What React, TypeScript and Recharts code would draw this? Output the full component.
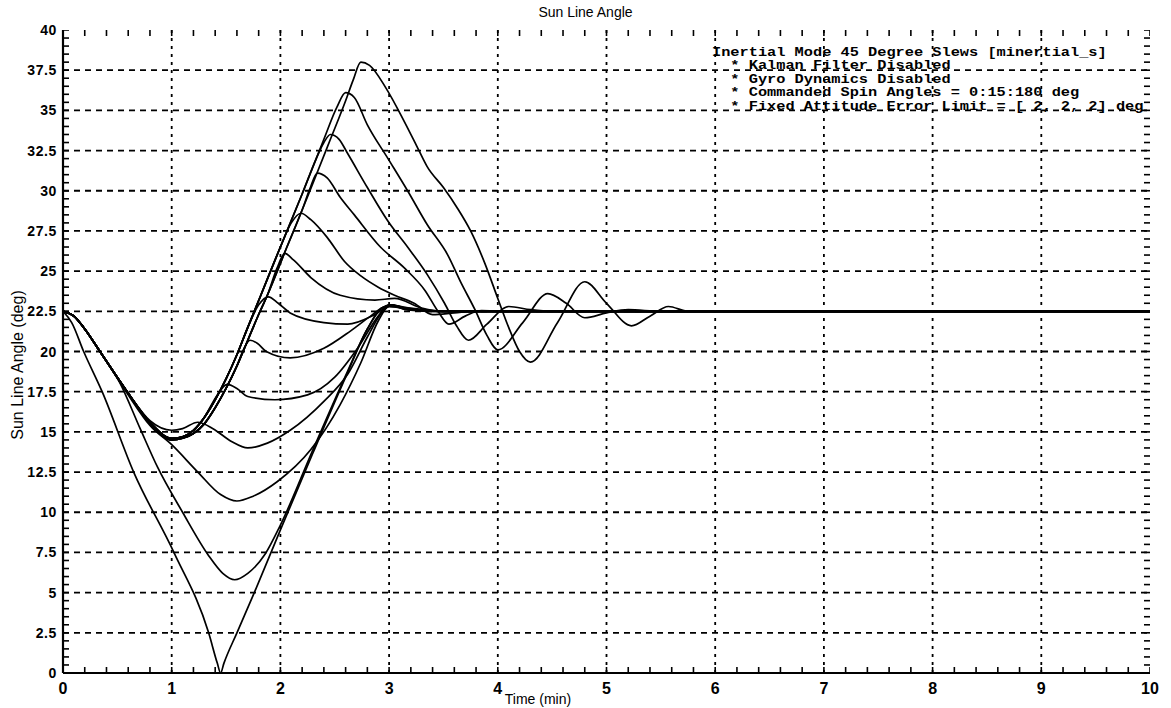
import { ComposedChart, Line, Scatter, XAxis, YAxis, ReferenceLine } from "recharts";

type Pt = [number, number];

// axis labels
const xTicks = [0, 1, 2, 3, 4, 5, 6, 7, 8, 9, 10];
const xLabels = ["0", "1", "2", "3", "4", "5", "6", "7", "8", "9", "10"];
const yTicks = [0, 2.5, 5, 7.5, 10, 12.5, 15, 17.5, 20, 22.5, 25, 27.5, 30, 32.5, 35, 37.5, 40];
const yLabels = ["0", "2.5", "5", "7.5", "10", "12.5", "15", "17.5", "20", "22.5", "25", "27.5", "30", "32.5", "35", "37.5", "40"];
const xGrid = [1, 2, 3, 4, 5, 6, 7, 8, 9];
const yGrid = [2.5, 5, 7.5, 10, 12.5, 15, 17.5, 20, 22.5, 25, 27.5, 30, 32.5, 35, 37.5];

const noteLines = [
  "Inertial Mode 45 Degree Slews [minertial_s]",
  "  * Kalman Filter Disabled",
  "  * Gyro Dynamics Disabled",
  "  * Commanded Spin Angles = 0:15:180 deg",
  "  * Fixed Attitude Error Limit = [ 2, 2, 2] deg",
];

// sun line angle (deg) vs time (min), one run per commanded spin angle
const spin0: Pt[] = [[0, 22.5], [0.08, 21.8], [0.19, 20], [0.36, 17.5], [0.65, 12.5], [1.02, 7.5], [1.34, 2.5], [1.42, 0.6], [1.45, 0], [1.48, 0.6], [1.6, 2.5], [1.76, 5], [2.0, 8.9], [2.3, 13.7], [2.6, 18.4], [2.8, 21.4], [2.92, 22.6], [3.02, 22.9], [3.15, 22.6], [3.4, 22.5], [10, 22.5]];
const spin15: Pt[] = [[0, 22.5], [0.1, 22.2], [0.2, 21.4], [0.34, 20.0], [0.52, 18.1], [0.71, 15.2], [0.87, 12.8], [1.1, 10.0], [1.34, 7.3], [1.47, 6.2], [1.58, 5.8], [1.7, 6.2], [1.86, 7.4], [2.0, 9.2], [2.3, 13.9], [2.6, 18.5], [2.8, 21.4], [2.93, 22.7], [3.03, 22.9], [3.2, 22.6], [3.5, 22.5], [10, 22.5]];
const spin30: Pt[] = [[0, 22.5], [0.1, 22.2], [0.2, 21.4], [0.34, 20.0], [0.59, 17.4], [0.8, 15.4], [1.0, 14.2], [1.24, 12.5], [1.45, 11.1], [1.6, 10.7], [1.75, 11.0], [1.97, 11.9], [2.28, 13.9], [2.55, 16.7], [2.74, 19.3], [2.9, 21.9], [3.0, 22.8], [3.2, 22.6], [3.5, 22.5], [10, 22.5]];
const spin45: Pt[] = [[0, 22.5], [0.1, 22.2], [0.2, 21.4], [0.34, 20.0], [0.59, 17.5], [0.8, 15.7], [1.0, 15.1], [1.1, 15.2], [1.24, 15.6], [1.38, 15.2], [1.55, 14.4], [1.7, 14.0], [1.88, 14.3], [2.09, 15.1], [2.4, 16.9], [2.62, 18.6], [2.8, 20.9], [2.92, 22.3], [3.02, 22.9], [3.2, 22.6], [3.5, 22.5], [10, 22.5]];
const spin60: Pt[] = [[0, 22.5], [0.1, 22.2], [0.2, 21.4], [0.34, 20.0], [0.59, 17.5], [0.8, 15.6], [1.0, 14.6], [1.1, 14.7], [1.2, 15.1], [1.3, 15.9], [1.42, 17.3], [1.51, 17.95], [1.6, 17.7], [1.7, 17.2], [1.95, 17.0], [2.25, 17.3], [2.5, 18.4], [2.71, 20.2], [2.9, 22.2], [3.0, 22.9], [3.2, 22.6], [3.5, 22.5], [10, 22.5]];
const spin75: Pt[] = [[0, 22.5], [0.1, 22.2], [0.2, 21.4], [0.34, 20.0], [0.59, 17.5], [0.8, 15.5], [1.0, 14.5], [1.1, 14.6], [1.2, 14.9], [1.3, 15.5], [1.4, 16.5], [1.5, 17.7], [1.6, 19.1], [1.66, 20.1], [1.72, 20.7], [1.79, 20.5], [1.87, 20.0], [2.09, 19.6], [2.4, 20.2], [2.65, 21.3], [2.83, 22.2], [2.97, 22.8], [3.15, 22.7], [3.4, 22.5], [10, 22.5]];
const spin90: Pt[] = [[0, 22.5], [0.1, 22.2], [0.2, 21.4], [0.34, 20.0], [0.59, 17.5], [0.8, 15.6], [1.0, 14.6], [1.1, 14.7], [1.2, 15.1], [1.3, 15.9], [1.4, 17.0], [1.5, 18.3], [1.6, 19.8], [1.7, 21.5], [1.8, 22.9], [1.89, 23.4], [1.98, 23.0], [2.09, 22.4], [2.4, 21.8], [2.62, 21.7], [2.87, 22.3], [3.02, 22.85], [3.2, 22.7], [3.5, 22.5], [10, 22.5]];
const spin105: Pt[] = [[0, 22.5], [0.1, 22.2], [0.2, 21.4], [0.34, 20.0], [0.59, 17.5], [0.8, 15.5], [1.0, 14.5], [1.1, 14.6], [1.2, 14.9], [1.3, 15.5], [1.4, 16.5], [1.5, 17.7], [1.6, 19.1], [1.7, 20.7], [1.8, 22.3], [1.88, 23.5], [1.97, 25.2], [2.04, 26.1], [2.12, 25.7], [2.28, 24.6], [2.55, 23.5], [2.87, 23.2], [3.05, 23.3], [3.3, 22.7], [3.5, 22.5], [10, 22.5]];
const spin120: Pt[] = [[0, 22.5], [0.1, 22.2], [0.2, 21.4], [0.34, 20.0], [0.59, 17.5], [0.8, 15.6], [1.0, 14.6], [1.1, 14.7], [1.2, 15.1], [1.3, 15.9], [1.4, 17.0], [1.5, 18.3], [1.6, 19.8], [1.7, 21.5], [1.82, 23.5], [2.0, 26.5], [2.1, 28.0], [2.19, 28.6], [2.28, 28.2], [2.43, 27.1], [2.59, 25.6], [2.74, 24.7], [2.9, 24.0], [3.05, 23.5], [3.23, 23.0], [3.4, 22.3], [3.6, 22.4], [3.8, 22.5], [10, 22.5]];
const spin135: Pt[] = [[0, 22.5], [0.1, 22.2], [0.2, 21.4], [0.34, 20.0], [0.59, 17.5], [0.8, 15.5], [1.0, 14.5], [1.1, 14.6], [1.2, 14.9], [1.3, 15.5], [1.4, 16.5], [1.5, 17.7], [1.6, 19.1], [1.7, 20.7], [1.8, 22.3], [1.88, 23.5], [2.06, 26.5], [2.2, 28.8], [2.27, 30.1], [2.34, 31.1], [2.43, 30.8], [2.55, 29.6], [2.68, 28.5], [2.92, 26.5], [3.14, 25.2], [3.33, 23.8], [3.45, 22.5], [3.55, 21.7], [3.7, 22.2], [3.85, 22.55], [4.0, 22.5], [10, 22.5]];
const spin150: Pt[] = [[0, 22.5], [0.1, 22.2], [0.2, 21.4], [0.34, 20.0], [0.59, 17.5], [0.8, 15.6], [1.0, 14.6], [1.1, 14.7], [1.2, 15.1], [1.3, 15.9], [1.4, 17.0], [1.5, 18.3], [1.6, 19.8], [1.7, 21.5], [1.82, 23.5], [2.0, 26.5], [2.2, 29.8], [2.33, 32.0], [2.4, 33.0], [2.46, 33.5], [2.54, 33.2], [2.62, 32.3], [2.8, 30.2], [2.99, 28.1], [3.17, 26.5], [3.35, 24.8], [3.51, 23.0], [3.62, 21.6], [3.73, 20.7], [3.9, 21.7], [4.1, 22.8], [4.3, 22.6], [4.5, 22.5], [10, 22.5]];
const spin165: Pt[] = [[0, 22.5], [0.1, 22.2], [0.2, 21.4], [0.34, 20.0], [0.59, 17.5], [0.8, 15.6], [1.0, 14.6], [1.1, 14.7], [1.2, 15.1], [1.3, 15.9], [1.4, 17.0], [1.5, 18.3], [1.6, 19.8], [1.7, 21.5], [1.82, 23.5], [2.0, 26.5], [2.2, 29.8], [2.4, 33.2], [2.52, 35.2], [2.6, 36.1], [2.68, 35.8], [2.8, 34.1], [2.99, 32.0], [3.17, 30.0], [3.35, 27.9], [3.54, 26.0], [3.66, 24.3], [3.79, 22.6], [3.9, 21.0], [4.0, 20.1], [4.23, 21.8], [4.46, 23.6], [4.63, 23.0], [4.8, 22.1], [5.0, 22.4], [5.2, 22.6], [5.5, 22.5], [10, 22.5]];
const spin180: Pt[] = [[0, 22.5], [0.1, 22.2], [0.2, 21.4], [0.34, 20.0], [0.59, 17.5], [0.8, 15.5], [1.0, 14.5], [1.1, 14.6], [1.2, 14.9], [1.3, 15.5], [1.4, 16.5], [1.5, 17.7], [1.6, 19.1], [1.7, 20.7], [1.8, 22.3], [1.88, 23.5], [2.06, 26.5], [2.26, 29.8], [2.46, 33.2], [2.6, 35.6], [2.67, 36.9], [2.74, 38.0], [2.82, 37.8], [2.97, 36.4], [3.14, 34.3], [3.26, 32.7], [3.35, 31.5], [3.5, 30.2], [3.63, 28.9], [3.75, 27.5], [3.88, 25.5], [4.0, 23.3], [4.1, 21.5], [4.2, 20.0], [4.3, 19.34], [4.55, 21.8], [4.8, 24.34], [5.0, 23.0], [5.23, 21.6], [5.4, 22.2], [5.57, 22.8], [5.75, 22.5], [6.0, 22.5], [10, 22.5]];

const runs = [spin0, spin15, spin30, spin45, spin60, spin75, spin90, spin105, spin120, spin135, spin150, spin165, spin180];

// minor tick positions (every 0.2 min, every 0.5 deg)
const minorX = Array.from({ length: 51 }, (_, i) => (i * 2) / 10);
const minorY = Array.from({ length: 81 }, (_, i) => i / 2);

const font = "'Liberation Sans', Arial, sans-serif";
const black = "#000";

function XTick(p: any) {
  const i = xTicks.indexOf(p.payload.value);
  return (
    <text x={p.x} y={p.y + 21} textAnchor="middle" fontSize={16} fontWeight="bold" fontFamily={font} fill={black}>
      {xLabels[i]}
    </text>
  );
}

function YTick(p: any) {
  const i = yTicks.indexOf(p.payload.value);
  return (
    <text x={p.x - 6} y={p.y + 5} textAnchor="end" fontSize={14} fontWeight="bold" letterSpacing={0.6} fontFamily={font} fill={black}>
      {yLabels[i]}
    </text>
  );
}

// inward tick marks of the frame, drawn at scatter positions on each side
const tickMark = (dx: number, dy: number) => (p: any) =>
  <line x1={p.cx} y1={p.cy} x2={p.cx + dx} y2={p.cy + dy} stroke={black} strokeWidth={1.6} />;

const bottomMarks = minorX.map((t) => ({ t, v: 0 }));
const topMarks = minorX.map((t) => ({ t, v: 40 }));
const leftMarks = minorY.map((v) => ({ t: 0, v }));
const rightMarks = minorY.map((v) => ({ t: 10, v }));

export default function App() {
  return (
    <div style={{ position: "absolute", left: 0, top: 0, width: 1171, height: 708, background: "#fff" }}>
      <div style={{ position: "absolute", left: 0, top: 4, width: 1171, textAlign: "center", fontFamily: font, fontSize: 14, lineHeight: "16px" }}>
        Sun Line Angle
      </div>
      <div style={{ position: "absolute", left: 8, top: 8 }}>
        <ComposedChart width={1163} height={700} margin={{ top: 22, right: 21, left: 0, bottom: 5 }}>
          <XAxis
            dataKey="t"
            type="number"
            domain={[0, 10]}
            allowDataOverflow
            ticks={xTicks}
            interval={0}
            tickSize={0}
            tickMargin={0}
            tick={XTick}
            tickLine={false}
            height={30}
            axisLine={{ stroke: black, strokeWidth: 2.2 }}
          />
          <XAxis
            xAxisId="top"
            orientation="top"
            type="number"
            domain={[0, 10]}
            allowDataOverflow
            tick={false}
            tickLine={false}
            height={0}
            axisLine={{ stroke: black, strokeWidth: 2.2 }}
          />
          <YAxis
            dataKey="v"
            type="number"
            domain={[0, 40]}
            allowDataOverflow
            ticks={yTicks}
            interval={0}
            tickSize={0}
            tickMargin={0}
            tick={YTick}
            tickLine={false}
            width={55}
            axisLine={{ stroke: black, strokeWidth: 2.2 }}
          />
          <YAxis
            yAxisId="right"
            orientation="right"
            type="number"
            domain={[0, 40]}
            allowDataOverflow
            tick={false}
            tickLine={false}
            width={0}
            axisLine={{ stroke: black, strokeWidth: 2.2 }}
          />
          {yGrid.map((v) => (
            <ReferenceLine key={"h" + v} y={v} stroke={black} strokeWidth={1.8} strokeDasharray="6 5" />
          ))}
          {xGrid.map((v) => (
            <ReferenceLine key={"v" + v} x={v} stroke={black} strokeWidth={1.8} strokeDasharray="3 5" />
          ))}
          <Scatter data={bottomMarks} dataKey="v" shape={tickMark(0, -6)} isAnimationActive={false} />
          <Scatter data={topMarks} dataKey="v" shape={tickMark(0, 6)} isAnimationActive={false} />
          <Scatter data={leftMarks} dataKey="v" shape={tickMark(6, 0)} isAnimationActive={false} />
          <Scatter data={rightMarks} dataKey="v" shape={tickMark(-6, 0)} isAnimationActive={false} />
          {runs.map((r, i) => (
            <Line
              key={i}
              data={r.map(([t, v]) => ({ t, v }))}
              dataKey="v"
              type="monotone"
              stroke={black}
              strokeWidth={1.7}
              dot={false}
              activeDot={false}
              isAnimationActive={false}
            />
          ))}
        </ComposedChart>
      </div>
      {noteLines.map((l, i) => (
        <div
          key={i}
          style={{
            position: "absolute",
            left: 712,
            top: 47 + i * 13.4,
            height: 13,
            fontFamily: "'Liberation Mono', 'Courier New', monospace",
            fontWeight: "bold",
            fontSize: 15.3,
            lineHeight: "15px",
            whiteSpace: "pre",
            color: black,
            transform: "scale(1, 0.8)",
            transformOrigin: "0 0",
          }}
        >
          {l}
        </div>
      ))}
      <div style={{ position: "absolute", left: 478, top: 691, width: 120, textAlign: "center", fontFamily: font, fontSize: 14, lineHeight: "16px" }}>
        Time (min)
      </div>
      <div
        style={{
          position: "absolute",
          left: 18,
          top: 365,
          transform: "translate(-50%, -50%) rotate(-90deg)",
          whiteSpace: "nowrap",
          fontFamily: font,
          fontSize: 16,
          lineHeight: "18px",
        }}
      >
        Sun Line Angle (deg)
      </div>
    </div>
  );
}
